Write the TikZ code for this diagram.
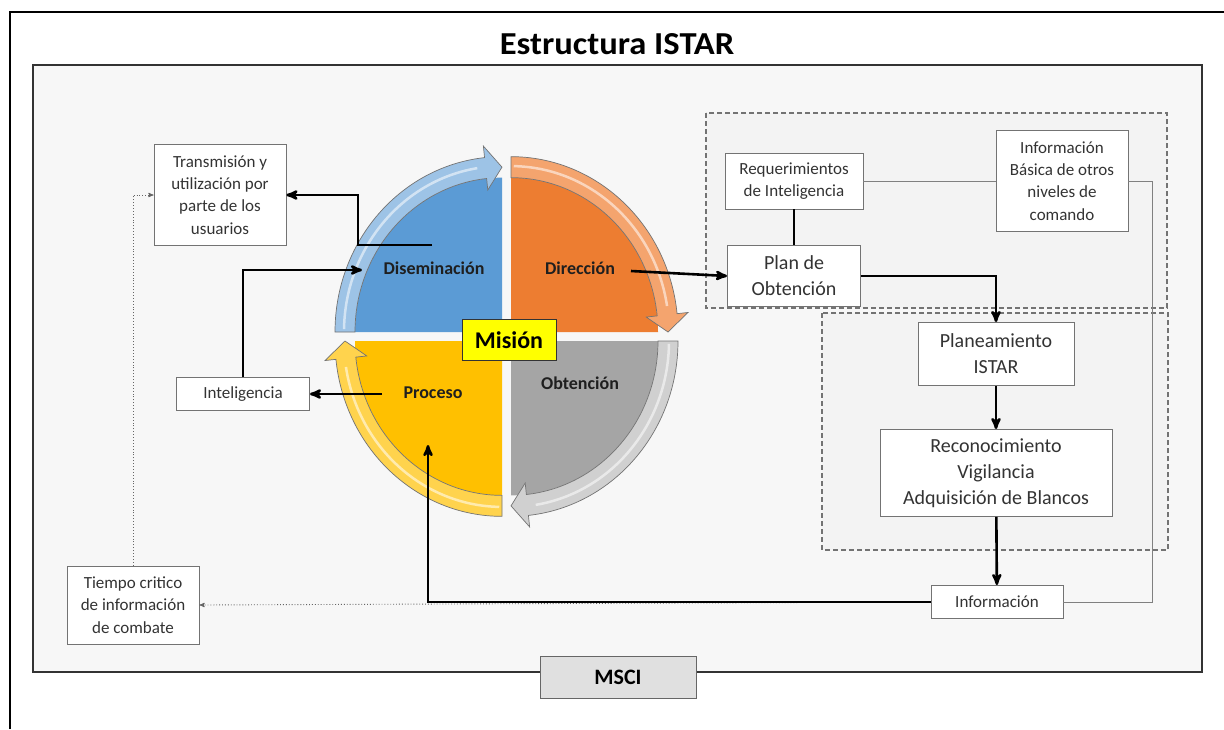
\documentclass[tikz,border=0pt]{standalone}
\usepackage{fontspec}
\setmainfont{Carlito}
\newfontfamily\titlefont{Carlito}[FakeStretch=1.08]
\usetikzlibrary{arrows}
\usetikzlibrary{positioning}
\definecolor{bgfill}{HTML}{F7F7F7}
\definecolor{dashfill}{HTML}{F3F3F3}
\definecolor{blueq}{HTML}{5B9BD5}
\definecolor{blueband}{HTML}{9DC3E6}
\definecolor{orangeq}{HTML}{ED7D31}
\definecolor{orangeband}{HTML}{F4A46E}
\definecolor{grayq}{HTML}{A5A5A5}
\definecolor{grayband}{HTML}{D0D0D0}
\definecolor{yellowq}{HTML}{FFC000}
\definecolor{yellowband}{HTML}{FFD34D}
\definecolor{misionfill}{HTML}{FFFF00}
\tikzset{
    box/.style={
        draw=black!55,
        fill=white,
        line width=0.9pt,
        align=center,
        text=black!80,
        inner sep=0pt},
    smalltext/.style={font=\fontsize{17}{22.3}\selectfont},
    bigtext/.style={font=\fontsize{20}{26}\selectfont},
    stage/.style={font=\fontsize{18}{21}\selectfont\bfseries, text=black!88},
    dashbox/.style={
        draw=black!55,
        fill=dashfill,
        line width=1.8pt,
        dash pattern=on 5pt off 3pt},
    link/.style={
        draw,
        ->,>=stealth',
        line width=2.6pt},
    plainlink/.style={draw, line width=2.6pt},
    thinlink/.style={draw=black!50, line width=0.9pt},
    dotlink/.style={
        draw=black!60,
        dotted,
        ->,>=stealth',
        line width=0.9pt}}

% one quarter of the cycle: corner x, corner y, rotation, colour, band colour
\newcommand{\drawquadrant}[5]{%
    \begin{scope}[shift={(#1,#2)}, yscale=1.05, rotate=#3]
        \fill[#4] (0,0) -- (180:147) arc[start angle=180, end angle=90, radius=147] -- cycle;
        \filldraw[fill=#5, draw=black!55, line width=0.7pt]
            (180:147) -- (180:167) arc[start angle=180, end angle=96, radius=167]
            -- (96:178) -- (90:157) -- (96:136) -- (96:147)
            arc[start angle=96, end angle=180, radius=147] -- cycle;
        \draw[white, opacity=0.55, line width=2.5pt]
            (179:158) arc[start angle=179, end angle=99, radius=158];
    \end{scope}}

\begin{document}
\begin{tikzpicture}[x=1pt,y=1pt]
    \useasboundingbox (0,0) rectangle (1224,-729);

    \draw[line width=1.3pt] (10,-729) -- (10,-12) -- (1224,-12);
    \node[font=\titlefont\fontsize{32}{36}\selectfont\bfseries] (title) at (617,-44) {Estructura ISTAR};
    \draw[fill=bgfill, draw=black!80, line width=1.3pt] (33,-65) rectangle (1202,-672);

    \draw[dashbox] (706,-113) rectangle (1167,-308);
    \draw[dashbox] (822,-313) rectangle (1168,-550);

    % cycle
    \drawquadrant{502}{-332}{0}{blueq}{blueband}
    \drawquadrant{511}{-332}{-90}{orangeq}{orangeband}
    \drawquadrant{511}{-341}{-180}{grayq}{grayband}
    \drawquadrant{502}{-341}{90}{yellowq}{yellowband}

    \node[stage] (dis) at (434,-268) {Diseminación};
    \node[stage] (dir) at (580,-268) {Dirección};
    \node[stage] (obt) at (580,-383) {Obtención};
    \node[stage] (pro) at (433,-393) {Proceso};
    \node[draw=black!80, fill=misionfill, line width=0.9pt, minimum width=94pt, minimum height=41pt,
        font=\fontsize{24}{28}\selectfont\bfseries] (mision) at (509,-340) {Misión};

    % boxes
    \node[box, smalltext, minimum width=132pt, minimum height=101pt] (trans) at (220,-195)
        {Transmisión y\\utilización por\\parte de los\\usuarios};
    \node[box, smalltext, minimum width=133pt, minimum height=33pt] (intel) at (243,-394) {Inteligencia};
    \node[box, smalltext, minimum width=132pt, minimum height=78pt] (tiempo) at (133,-605)
        {Tiempo critico\\de información\\de combate};
    \node[box, smalltext, minimum width=138pt, minimum height=56pt] (req) at (794,-181)
        {Requerimientos\\de Inteligencia};
    \node[box, smalltext, minimum width=132pt, minimum height=101pt] (basica) at (1062,-181)
        {Información\\Básica de otros\\niveles de\\comando};
    \node[box, bigtext, minimum width=133pt, minimum height=61pt] (plan) at (794,-276)
        {Plan de\\Obtención};
    \node[box, bigtext, minimum width=156pt, minimum height=63pt] (planea) at (996,-354)
        {Planeamiento\\ISTAR};
    \node[box, bigtext, minimum width=232pt, minimum height=87pt] (recon) at (996,-473)
        {Reconocimiento\\Vigilancia\\Adquisición de Blancos};
    \node[box, smalltext, minimum width=132pt, minimum height=33pt] (info) at (997,-602) {Información};
    \node[draw=black!60, fill=black!12, line width=0.9pt, minimum width=156pt, minimum height=42pt,
        font=\fontsize{22}{26}\selectfont\bfseries] (msci) at (618,-677) {MSCI};

    \coordinate (disout) at (432,-245);
    \coordinate (disin) at (362,-270);
    \coordinate (proout) at (382,-394);
    \coordinate (proin) at (428,-445);
    \coordinate (dirout) at (631,-271);

    % connectors
    \draw[thinlink] (req) -- (basica);
    \draw[thinlink] (basica.east) -- ++(24,0) |- (info.east);
    \draw[dotlink] (info.west) -- (tiempo.east);
    \draw[dotlink] (tiempo.north) |- (trans.west);

    \draw[link] (disout) -- ++(-74,0) |- (trans.east);
    \draw[link] (intel.north) |- (disin);
    \draw[link] (proout) -- (intel.east);
    \draw[link] (dirout) -- (plan.west);
    \draw[plainlink] (req) -- (plan);
    \draw[link] (plan.east) -| (planea.north);
    \draw[link] (planea) -- (recon);
    \draw[link] (recon) -- (info);
    \draw[link] (info.west) -| (proin);
\end{tikzpicture}
\end{document}
